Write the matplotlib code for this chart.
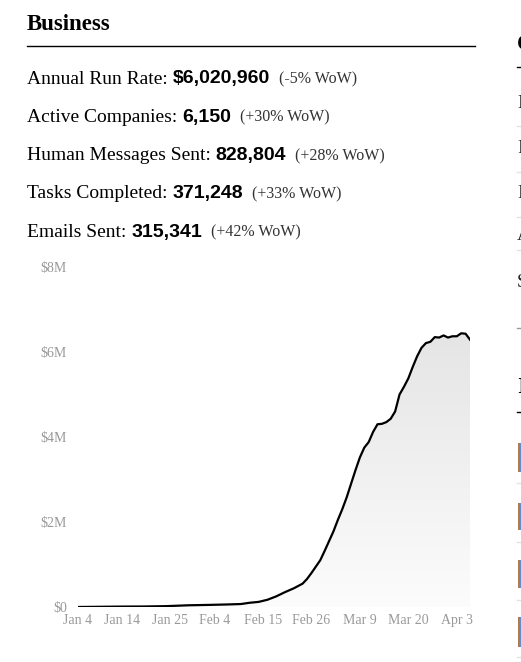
import matplotlib
matplotlib.use("Agg")
import matplotlib.pyplot as plt
import matplotlib.dates as mdates
import matplotlib.transforms as mtransforms
import numpy as np
from matplotlib.colors import LinearSegmentedColormap
from matplotlib.lines import Line2D
from matplotlib.patches import Rectangle

# metrics listed above the chart
metric_names = ["Annual Run Rate:", "Active Companies:", "Human Messages Sent:",
                "Tasks Completed:", "Emails Sent:"]
metric_values = ["$6,020,960", "6,150", "828,804", "371,248", "315,341"]
metric_changes = ["(-5% WoW)", "(+30% WoW)", "(+28% WoW)", "(+33% WoW)", "(+42% WoW)"]

# annual run rate in $M
dates = ["2025-01-04", "2025-01-09", "2025-01-14", "2025-01-19", "2025-01-24",
         "2025-01-29", "2025-02-03", "2025-02-07", "2025-02-10", "2025-02-12",
         "2025-02-14", "2025-02-16", "2025-02-18", "2025-02-20", "2025-02-22",
         "2025-02-24", "2025-02-25", "2025-02-26", "2025-02-27", "2025-02-28",
         "2025-03-01", "2025-03-02", "2025-03-03", "2025-03-04", "2025-03-05",
         "2025-03-06", "2025-03-07", "2025-03-08", "2025-03-09", "2025-03-10",
         "2025-03-11", "2025-03-12", "2025-03-13", "2025-03-14", "2025-03-15",
         "2025-03-16", "2025-03-17", "2025-03-18", "2025-03-19", "2025-03-20",
         "2025-03-21", "2025-03-22", "2025-03-23", "2025-03-24", "2025-03-25",
         "2025-03-26", "2025-03-27", "2025-03-28", "2025-03-29", "2025-03-30",
         "2025-03-31", "2025-04-01", "2025-04-02", "2025-04-03"]
run_rate = [0.00, 0.005, 0.01, 0.012, 0.02,
            0.04, 0.05, 0.06, 0.07, 0.10,
            0.12, 0.17, 0.25, 0.35, 0.44,
            0.55, 0.66, 0.80, 0.95, 1.10,
            1.32, 1.55, 1.78, 2.05, 2.30,
            2.58, 2.90, 3.22, 3.52, 3.75,
            3.88, 4.12, 4.30, 4.31, 4.35,
            4.43, 4.60, 5.00, 5.18, 5.38,
            5.65, 5.90, 6.10, 6.21, 6.24,
            6.35, 6.34, 6.39, 6.34, 6.37,
            6.37, 6.44, 6.43, 6.29]

tick_dates = ["2025-01-04", "2025-01-14", "2025-01-25", "2025-02-04", "2025-02-15",
              "2025-02-26", "2025-03-09", "2025-03-20", "2025-04-03"]
tick_labels = ["Jan 4", "Jan 14", "Jan 25", "Feb 4", "Feb 15",
               "Feb 26", "Mar 9", "Mar 20", "Apr 3"]
y_ticks = [0, 2, 4, 6, 8]
y_labels = ["$0", "$2M", "$4M", "$6M", "$8M"]

W, H = 521, 662
SERIF = "Liberation Serif"
SANS = "Liberation Sans"

fig = plt.figure(figsize=(W / 100, H / 100), dpi=100)
renderer = fig.canvas.get_renderer()


def px(x, y):
    return x / W, 1 - y / H


def put(x, y, s, **kw):
    t = fig.text(*px(x, y), s, va="baseline", ha="left", **kw)
    return x + t.get_window_extent(renderer).width


# section header
fig.text(*px(27, 30), "Business", family=SERIF, weight="bold", fontsize=16.5, va="baseline")
fig.add_artist(Line2D([27 / W, 475 / W], [1 - 46 / H] * 2, color="black", lw=1))

# metric rows
for i, (name, val, chg) in enumerate(zip(metric_names, metric_values, metric_changes)):
    base = 83.5 + i * 38.3
    x = put(27, base, name, family=SERIF, fontsize=14, color="black")
    x = put(x + 5, base, val, family=SANS, weight="bold", fontsize=14, color="black")
    put(x + 9, base, chg, family=SERIF, fontsize=11.5, color="#333333")

# run rate chart
ax = fig.add_axes([78 / W, 1 - 607 / H, (470 - 78) / W, (607 - 267) / H])
xs = mdates.date2num(np.array(dates, dtype="datetime64[D]"))
ys = np.array(run_rate)

poly = ax.fill_between(xs, 0, ys, facecolor="none", edgecolor="none")
grad = np.linspace(0, 1, 256).reshape(-1, 1)
cmap = LinearSegmentedColormap.from_list("g", ["#fcfcfc", "#e5e5e5"])
img = ax.imshow(grad, extent=[xs[0], xs[-1], 0, ys.max()], aspect="auto",
                origin="lower", cmap=cmap, zorder=1)
img.set_clip_path(poly.get_paths()[0], transform=ax.transData)
ax.plot(xs, ys, color="black", lw=1.6, zorder=3, solid_joinstyle="round")

ax.set_xlim(xs[0], xs[-1])
ax.set_ylim(0, 8)
for s in ax.spines.values():
    s.set_visible(False)
ax.set_yticks(y_ticks)
ax.set_yticklabels(y_labels)
ax.set_xticks(mdates.date2num(np.array(tick_dates, dtype="datetime64[D]")))
ax.set_xticklabels(tick_labels)
ax.tick_params(length=0, labelsize=10, labelcolor="#999999")
ax.tick_params(axis="y", pad=8)
ax.tick_params(axis="x", pad=5)
for lab in ax.get_xticklabels() + ax.get_yticklabels():
    lab.set_family(SERIF)
last = ax.get_xticklabels()[-1]
last.set_ha("right")
last.set_transform(last.get_transform() + mtransforms.ScaledTranslation(3 / 100, 0, fig.dpi_scale_trans))

# clipped neighbour column at the right edge
fig.text(*px(517, 50), "C", family=SERIF, weight="bold", fontsize=16.5, va="baseline")
fig.add_artist(Line2D([517 / W, 1], [1 - 67 / H] * 2, color="black", lw=1))
for letter, base, rule in [("N", 108, 126), ("F", 153, 172), ("F", 198, 217),
                           ("A", 240, 250), ("S", 287, 328)]:
    fig.text(*px(517, base), letter, family=SERIF, fontsize=14, color="#222222", va="baseline")
    fig.add_artist(Line2D([517 / W, 1], [1 - rule / H] * 2,
                          color="#999999" if rule == 328 else "#e2e2e2", lw=1))
fig.text(*px(517, 393), "I", family=SERIF, weight="bold", fontsize=16.5, va="baseline")
fig.add_artist(Line2D([517 / W, 1], [1 - 412 / H] * 2, color="black", lw=1))
for top, bot, rule in [(443, 472, 483), (503, 530, 542), (560, 588, 600), (617, 647, 657)]:
    fig.add_artist(Rectangle(px(518, bot), 2 / W, (bot - top) / H, facecolor="#b87848",
                             edgecolor="none"))
    fig.add_artist(Rectangle(px(520, bot), 1 / W, (bot - top) / H, facecolor="#5b8fd6",
                             edgecolor="none"))
    fig.add_artist(Line2D([517 / W, 1], [1 - rule / H] * 2, color="#e2e2e2", lw=1))

fig.savefig("out.png", dpi=100)
